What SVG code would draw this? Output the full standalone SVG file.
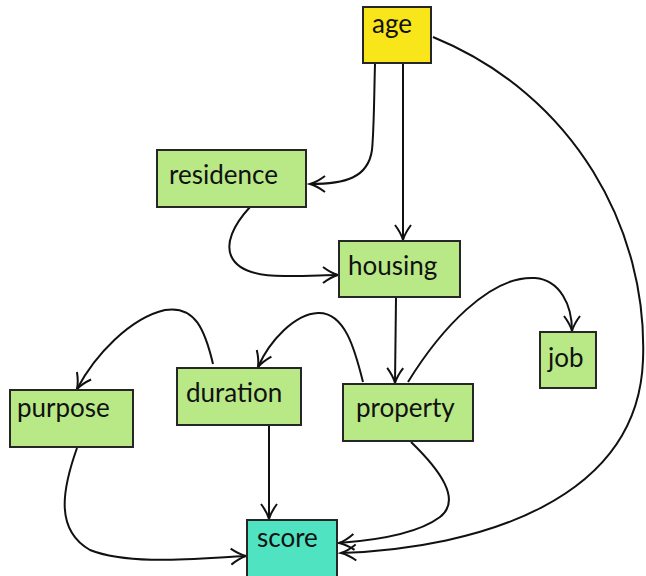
<svg xmlns="http://www.w3.org/2000/svg" width="646" height="576" viewBox="0 0 646 576">
  <defs>
    <marker id="vee" markerUnits="userSpaceOnUse" markerWidth="22" markerHeight="22" viewBox="-18 -11 22 22" refX="0" refY="0" orient="auto">
      <path d="M-15,-8 Q-7,-2 0,0 Q-7,2 -15,8" fill="none" stroke="#111" stroke-width="2"/>
    </marker>
  </defs>
  <style>
    .node rect { stroke: #262626; stroke-width: 2; }
    .green { fill: #b8e986; }
    .yellow { fill: #f8e51a; }
    .teal { fill: #50e3c2; }
    .node text { font-family: Lato, "Liberation Sans", sans-serif; font-size: 26px; fill: #111; }
    .edge { fill: none; stroke: #111; stroke-width: 2; marker-end: url(#vee); }
  </style>

  <g id="connectors">
    <path class="edge" d="M375,64 C374,100 374,130 372,150 C368,178 345,184 310,184"/>
    <path class="edge" d="M403,64 L403,240"/>
    <path class="edge" d="M433,37 C575,95 648,230 643,360 C638,500 480,548 341,553"/>
    <path class="edge" d="M250,207 C215,245 222,278 290,276 C310,276 325,275 338,275"/>
    <path class="edge" d="M396,298 L395,383"/>
    <path class="edge" d="M408,382 C440,330 490,275 535,278 C560,280 572,305 572,331"/>
    <path class="edge" d="M363,382 C355,350 345,312 318,313 C295,314 270,340 258,367"/>
    <path class="edge" d="M213,364 C205,330 195,305 165,310 C130,318 95,355 77,389"/>
    <path class="edge" d="M269,426 L269,519"/>
    <path class="edge" d="M77,448 C62,490 55,530 90,550 C130,566 200,558 246,556"/>
    <path class="edge" d="M411,442 C440,470 462,500 440,517 C420,532 380,540 339,543"/>
  </g>

  <g id="age" class="node">
    <rect class="yellow" x="363" y="7" width="68" height="56"/>
    <text x="372" y="33">age</text>
  </g>
  <g id="residence" class="node">
    <rect class="green" x="157" y="150" width="149" height="57"/>
    <text x="169" y="184">residence</text>
  </g>
  <g id="housing" class="node">
    <rect class="green" x="339" y="241" width="121" height="56"/>
    <text x="348" y="275">housing</text>
  </g>
  <g id="duration" class="node">
    <rect class="green" x="177" y="368" width="124" height="57"/>
    <text x="186" y="402">duration</text>
  </g>
  <g id="purpose" class="node">
    <rect class="green" x="10" y="390" width="123" height="57"/>
    <text x="17" y="417">purpose</text>
  </g>
  <g id="property" class="node">
    <rect class="green" x="343" y="384" width="130" height="57"/>
    <text x="356" y="417">property</text>
  </g>
  <g id="job" class="node">
    <rect class="green" x="540" y="332" width="56" height="56"/>
    <text x="548" y="367">job</text>
  </g>
  <g id="score" class="node">
    <rect class="teal" x="247" y="520" width="90" height="70"/>
    <text x="257" y="547">score</text>
  </g>
</svg>
